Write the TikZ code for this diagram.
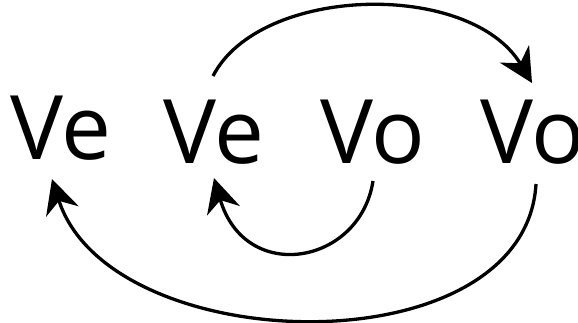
\documentclass[tikz,border=0pt]{standalone}
\usepackage{fontspec}
\setmainfont{Open Sans}
\usetikzlibrary{arrows.meta}
\tikzset{
  word/.style={anchor=base west, inner sep=0pt, font=\fontsize{89}{89}\selectfont},
  arc/.style={line width=3.3pt, -{Stealth[length=34pt,width=34pt,inset=11pt]}}
}
\begin{document}
\begin{tikzpicture}[x=1pt,y=-1pt]
\useasboundingbox (0,0) rectangle (578,322);
\node[word] (ve1) at (10,159) {Ve};
\node[word] (ve2) at (163,163) {Ve};
\node[word] (vo1) at (320,163) {Vo};
\node[word] (vo2) at (480,163) {Vo};
\coordinate (t1) at (213,76);
\coordinate (t2) at (532,83);
\coordinate (m1) at (373,181);
\coordinate (m2) at (214,178);
\coordinate (b1) at (536,184);
\coordinate (b2) at (52,179);
\draw[arc] (t1) .. controls (260,-15) and (470,-20) .. (t2);
\draw[arc] (m1) .. controls (360,265) and (245,285) .. (m2);
\draw[arc] (b1) .. controls (525,370) and (110,360) .. (b2);
\end{tikzpicture}
\end{document}
